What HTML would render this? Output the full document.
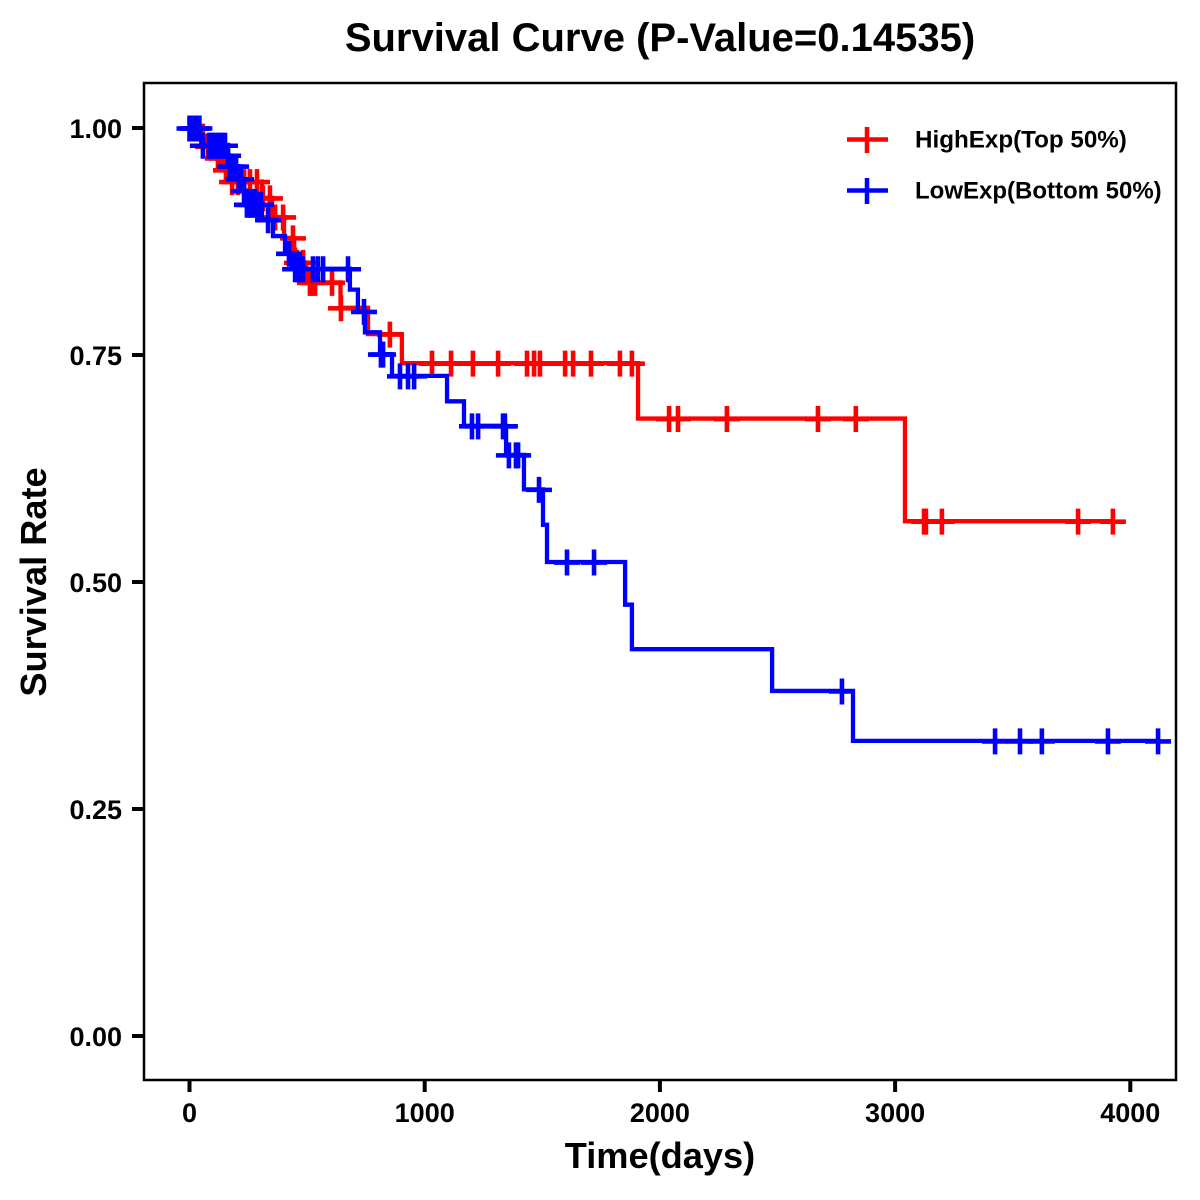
<!DOCTYPE html>
<html lang="en">
<head>
<meta charset="utf-8">
<title>Survival Curve</title>
<style>
html,body{margin:0;padding:0;background:#fff;}
svg{display:block;font-family:"Liberation Sans",Arial,sans-serif;font-weight:bold;fill:#000;}
</style>
</head>
<body>
<svg id="chart" xmlns="http://www.w3.org/2000/svg" width="1200" height="1200" viewBox="0 0 1200 1200">
  <rect x="0" y="0" width="1200" height="1200" fill="#fff"/>
  <g id="series"></g>
  <rect x="144" y="83" width="1032" height="997" fill="none" stroke="#000" stroke-width="2.5"/>
  <g id="axes"></g>
  <text x="660" y="51" text-anchor="middle" font-size="40">Survival Curve (P-Value=0.14535)</text>
  <text x="660" y="1168" text-anchor="middle" font-size="36.2">Time(days)</text>
  <text x="0" y="0" transform="translate(46,582) rotate(-90)" text-anchor="middle" font-size="36.2">Survival Rate</text>
  <g>
    <g>
      <path d="M847 139.5H888M867 127V153" stroke="#f00" stroke-width="4.5" fill="none"/>
      <text x="915" y="147.5" font-size="24.2">HighExp(Top 50%)</text>
    </g>
    <g>
      <path d="M847 190.5H888M867 178V204" stroke="#00f" stroke-width="4.5" fill="none"/>
      <text x="915" y="198.5" font-size="24">LowExp(Bottom 50%)</text>
    </g>
  </g>
</svg>
<script>
const xTicks = [0, 1000, 2000, 3000, 4000];
const yTicks = [0, 0.25, 0.5, 0.75, 1];
const yTickLabels = ["0.00", "0.25", "0.50", "0.75", "1.00"];

const highTimes = [0, 32, 74, 113, 147, 164, 308, 351, 402, 445, 449, 495, 642, 759, 903, 1907, 3042];
const highSurvival = [1, 0.991, 0.980, 0.967, 0.954, 0.941, 0.923, 0.902, 0.879, 0.866, 0.852, 0.830, 0.802, 0.773, 0.741, 0.680, 0.567];
const highCensor = [23, 57, 79, 96, 121, 138, 155, 181, 206, 232, 257, 287, 312, 342, 364, 398, 440, 457, 483, 512, 521, 534, 606, 644, 852, 1031, 1112, 1205, 1312, 1435, 1465, 1490, 1597, 1631, 1707, 1830, 1881, 2039, 2077, 2285, 2672, 2833, 3123, 3131, 3199, 3778, 3926];

const lowTimes = [0, 43, 50, 160, 168, 205, 225, 238, 308, 355, 406, 436, 682, 716, 746, 810, 861, 1095, 1167, 1346, 1422, 1503, 1520, 1852, 1881, 2477, 2821];
const lowSurvival = [1, 0.990, 0.981, 0.970, 0.958, 0.944, 0.931, 0.916, 0.899, 0.881, 0.862, 0.845, 0.822, 0.798, 0.775, 0.751, 0.727, 0.699, 0.672, 0.640, 0.602, 0.563, 0.522, 0.475, 0.426, 0.380, 0.325];
const lowCensor = [0, 9, 17, 26, 34, 42, 57, 83, 91, 100, 108, 117, 125, 134, 142, 151, 164, 172, 181, 189, 198, 210, 219, 232, 244, 253, 261, 270, 278, 287, 295, 304, 334, 423, 449, 457, 466, 474, 483, 525, 546, 568, 674, 742, 814, 823, 895, 929, 955, 1201, 1227, 1333, 1341, 1358, 1388, 1397, 1486, 1605, 1720, 2774, 3425, 3531, 3624, 3905, 4118];

const SVG_NS = "http://www.w3.org/2000/svg";
function xScale(t) { return 189.5 + t * 0.2352; }
function yScale(s) { return 128 + (1 - s) * 908; }
function survivalAt(times, surv, t) {
  let v = surv[0];
  for (let i = 0; i < times.length; i++) { if (times[i] <= t) v = surv[i]; }
  return v;
}
function stepPath(times, surv, end) {
  let d = "M" + xScale(times[0]) + " " + yScale(surv[0]);
  for (let i = 1; i < times.length; i++) {
    d += "H" + xScale(times[i]) + "V" + yScale(surv[i]);
  }
  return d + "H" + xScale(end);
}
const seriesLayer = document.getElementById("series");
const axesLayer = document.getElementById("axes");

function drawSeries(times, surv, censor, color, key) {
  const end = censor[censor.length - 1];
  const line = document.createElementNS(SVG_NS, "path");
  line.setAttribute("d", stepPath(times, surv, end));
  line.setAttribute("fill", "none");
  line.setAttribute("stroke", color);
  line.setAttribute("stroke-width", "4.3");
  
  
  seriesLayer.appendChild(line);
  censor.forEach(function (t) {
    const px = xScale(t);
    const py = yScale(survivalAt(times, surv, t)) + 0.5;
    const mark = document.createElementNS(SVG_NS, "path");
    mark.setAttribute("d", "M" + (px - 13) + " " + py + "H" + (px + 13) + "M" + px + " " + (py - 13) + "V" + (py + 13));
    mark.setAttribute("fill", "none");
    mark.setAttribute("stroke", color);
    mark.setAttribute("stroke-width", "4.6");
    
    
    seriesLayer.appendChild(mark);
  });
}
drawSeries(highTimes, highSurvival, highCensor, "#f00", "high-exp");
drawSeries(lowTimes, lowSurvival, lowCensor, "#00f", "low-exp");

xTicks.forEach(function (t) {
  const px = xScale(t);
  const tick = document.createElementNS(SVG_NS, "line");
  tick.setAttribute("x1", px);
  tick.setAttribute("x2", px);
  tick.setAttribute("y1", 1081);
  tick.setAttribute("y2", 1092);
  tick.setAttribute("stroke", "#000");
  tick.setAttribute("stroke-width", "4");
  
  
  axesLayer.appendChild(tick);
  const label = document.createElementNS(SVG_NS, "text");
  label.setAttribute("x", px);
  label.setAttribute("y", 1122);
  label.setAttribute("text-anchor", "middle");
  label.setAttribute("font-size", "27");
  label.textContent = String(t);
  
  
  axesLayer.appendChild(label);
});
yTicks.forEach(function (s, i) {
  const py = yScale(s);
  const tick = document.createElementNS(SVG_NS, "line");
  tick.setAttribute("x1", 132);
  tick.setAttribute("x2", 143);
  tick.setAttribute("y1", py);
  tick.setAttribute("y2", py);
  tick.setAttribute("stroke", "#000");
  tick.setAttribute("stroke-width", "4");
  
  
  axesLayer.appendChild(tick);
  const label = document.createElementNS(SVG_NS, "text");
  label.setAttribute("x", 122);
  label.setAttribute("y", py + 10);
  label.setAttribute("text-anchor", "end");
  label.setAttribute("font-size", "27");
  label.textContent = yTickLabels[i];
  
  
  axesLayer.appendChild(label);
});
</script>
</body>
</html>
